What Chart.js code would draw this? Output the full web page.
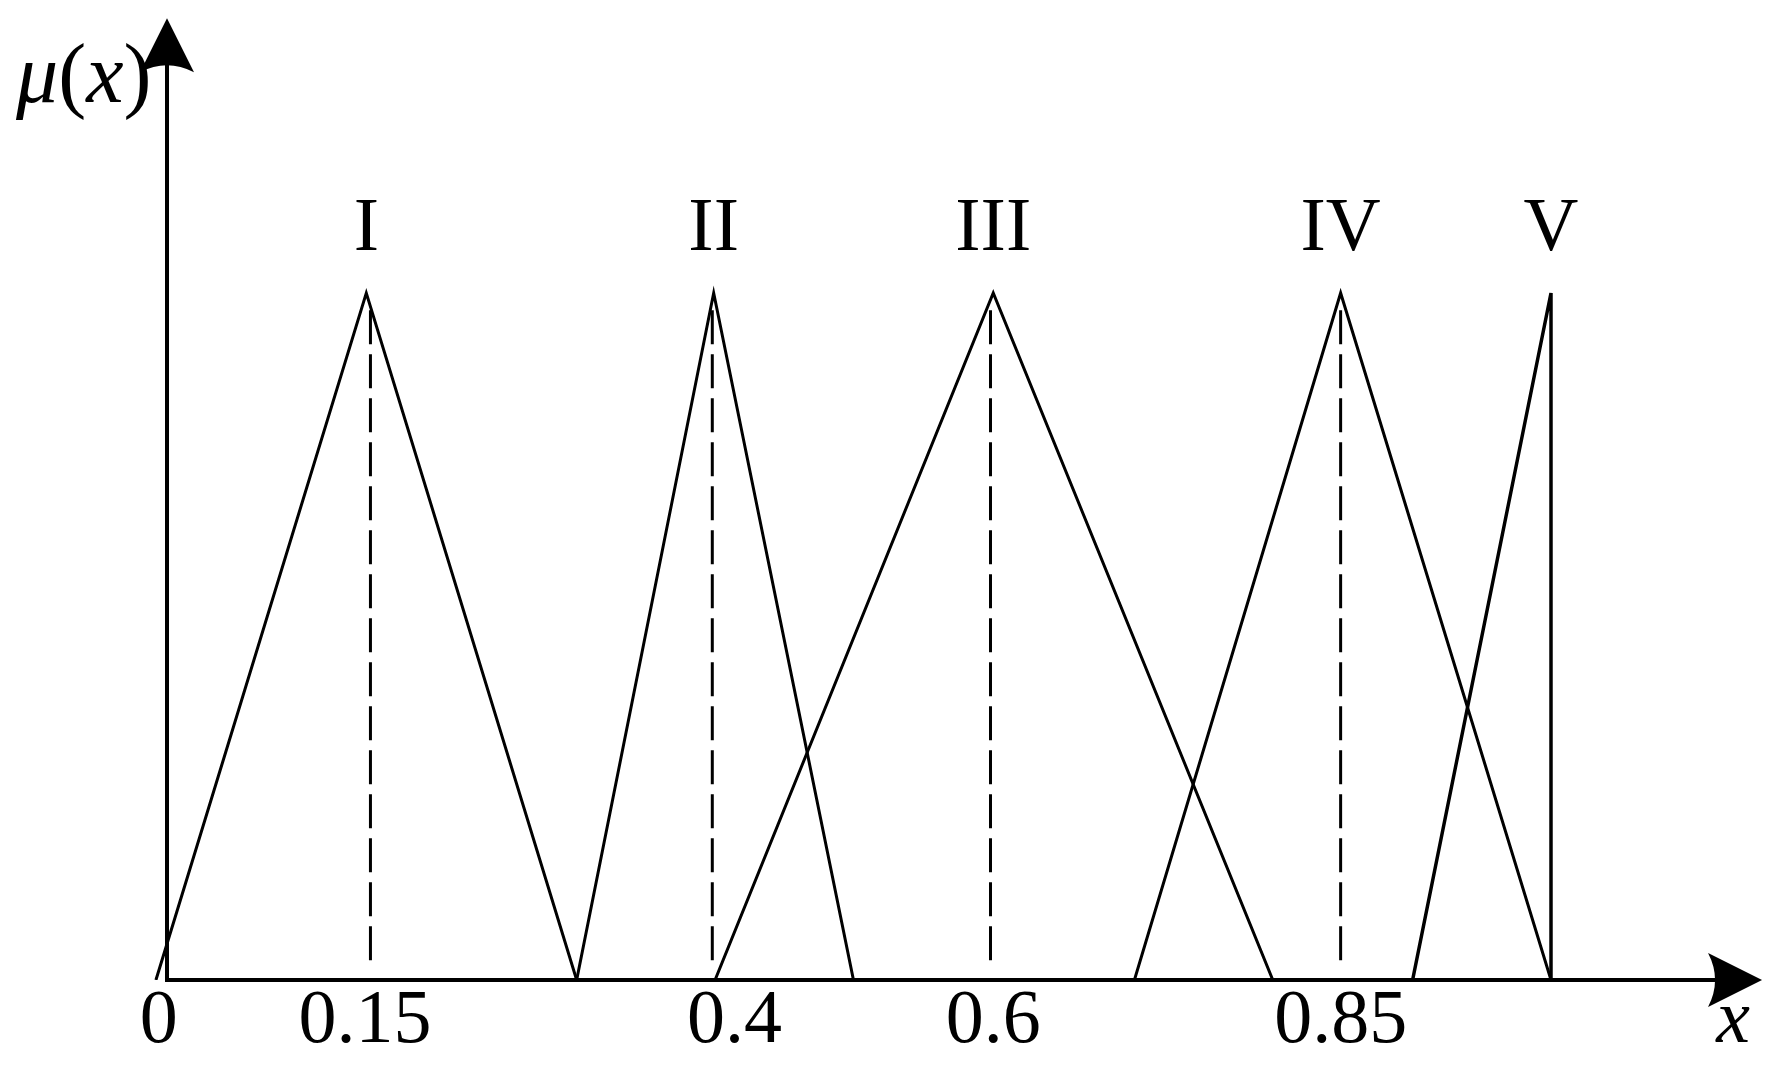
<!DOCTYPE html>
<html>
<head>
<meta charset="utf-8">
<title>Membership functions</title>
<script src="https://cdn.jsdelivr.net/npm/chart.js@4/dist/chart.umd.min.js"></script>
<style>
  html, body { margin: 0; padding: 0; background: #fff; }
  canvas { display: block; }
</style>
</head>
<body>
<canvas id="chart" width="1779" height="1079"></canvas>
<script>
// Triangular membership functions.
// x is in the figure's own units (0 at the y axis, 1 at the V peak).
const gradeNames = ['I', 'II', 'III', 'IV', 'V'];
const gradeI   = [{x: -0.008, y: 0}, {x: 0.144, y: 1}, {x: 0.296, y: 0}];
const gradeII  = [{x: 0.296, y: 0}, {x: 0.395, y: 1}, {x: 0.496, y: 0}];
const gradeIII = [{x: 0.396, y: 0}, {x: 0.597, y: 1}, {x: 0.799, y: 0}];
const gradeIV  = [{x: 0.699, y: 0}, {x: 0.848, y: 1}, {x: 1.0, y: 0}];
const gradeV   = [{x: 0.900, y: 0}, {x: 1.0, y: 1}, {x: 1.0, y: 0}];
const grades = [gradeI, gradeII, gradeIII, gradeIV, gradeV];

// dashed guide lines under the first four peaks
const guideX = [0.147, 0.394, 0.595, 0.848];
const guideTop = 0.975;
const guideBottom = 0.02;

// x axis tick positions and their printed labels
const tickValues = [-0.006, 0.143, 0.41, 0.597, 0.848];
const tickLabels = ['0', '0.15', '0.4', '0.6', '0.85'];

const FONT = '"Liberation Serif", "Times New Roman", serif';

const datasets = [];
grades.forEach((pts, i) => {
  datasets.push({
    label: gradeNames[i],
    data: pts,
    borderColor: '#000',
    borderWidth: i === 4 ? 3.5 : 3,
    pointRadius: 0,
    tension: 0,
    fill: false
  });
});
// drawn from the top down so the dash pattern starts under the peak
guideX.forEach(x => {
  datasets.push({
    label: 'guide',
    data: [{x: x, y: guideTop}, {x: x, y: guideBottom}],
    borderColor: '#000',
    borderWidth: 3,
    borderDash: [34, 10],
    pointRadius: 0,
    fill: false
  });
});

// axes with arrow heads, grade names and axis titles
const decorations = {
  id: 'decorations',
  afterDraw(chart) {
    const ctx = chart.ctx;
    const xs = chart.scales.x, ys = chart.scales.y;
    const x0 = xs.getPixelForValue(0), y0 = ys.getPixelForValue(0);
    ctx.save();
    ctx.strokeStyle = '#000';
    ctx.fillStyle = '#000';
    ctx.lineWidth = 4;
    // y axis
    const yTip = ys.getPixelForValue(1.4);
    ctx.beginPath();
    ctx.moveTo(x0, y0 + 2);
    ctx.lineTo(x0, yTip + 40);
    ctx.stroke();
    ctx.beginPath();
    ctx.moveTo(x0, yTip);
    ctx.lineTo(x0 + 27, yTip + 54);
    ctx.quadraticCurveTo(x0, yTip + 40, x0 - 27, yTip + 54);
    ctx.closePath();
    ctx.fill();
    // x axis
    const xTip = xs.getPixelForValue(1.1525);
    ctx.beginPath();
    ctx.moveTo(x0 - 2, y0);
    ctx.lineTo(xTip - 40, y0);
    ctx.stroke();
    ctx.beginPath();
    ctx.moveTo(xTip, y0);
    ctx.lineTo(xTip - 54, y0 - 27);
    ctx.quadraticCurveTo(xTip - 40, y0, xTip - 54, y0 + 27);
    ctx.closePath();
    ctx.fill();

    // grade names above each peak
    ctx.font = '76px ' + FONT;
    ctx.textAlign = 'center';
    ctx.textBaseline = 'alphabetic';
    grades.forEach((pts, i) => {
      ctx.fillText(gradeNames[i], xs.getPixelForValue(pts[1].x), ys.getPixelForValue(1) - 43);
    });

    // axis titles
    ctx.textAlign = 'left';
    let px = 16;
    const base = 102;
    [['italic ', '\u03bc'], ['', '('], ['italic ', 'x'], ['', ')']].forEach(p => {
      ctx.font = p[0] + '84px ' + FONT;
      ctx.fillText(p[1], px, base);
      px += ctx.measureText(p[1]).width;
    });
    ctx.font = 'italic 76px ' + FONT;
    ctx.textAlign = 'center';
    ctx.fillText('x', 1733, 1042);
    ctx.restore();
  }
};

new Chart(document.getElementById('chart'), {
  type: 'line',
  data: { datasets: datasets },
  options: {
    responsive: false,
    animation: false,
    devicePixelRatio: 1,
    layout: { padding: { left: 125.48, right: 20.4, top: 18.2, bottom: 0 } },
    plugins: { legend: { display: false }, tooltip: { enabled: false } },
    elements: { line: { borderCapStyle: 'butt' } },
    scales: {
      x: {
        type: 'linear',
        min: -0.03,
        max: 1.15,
        grid: { display: false, drawTicks: false },
        border: { display: false },
        afterBuildTicks(scale) {
          scale.ticks = tickValues.map(v => ({ value: v }));
        },
        afterFit(scale) { scale.height = 99; },
        ticks: {
          autoSkip: false,
          maxRotation: 0,
          minRotation: 0,
          padding: 4,
          color: '#000',
          font: { family: FONT, size: 76, lineHeight: 1.0 },
          callback: (value, index) => tickLabels[index]
        }
      },
      y: {
        type: 'linear',
        display: false,
        min: 0,
        max: 1.4
      }
    }
  },
  plugins: [decorations]
});
</script>
</body>
</html>
